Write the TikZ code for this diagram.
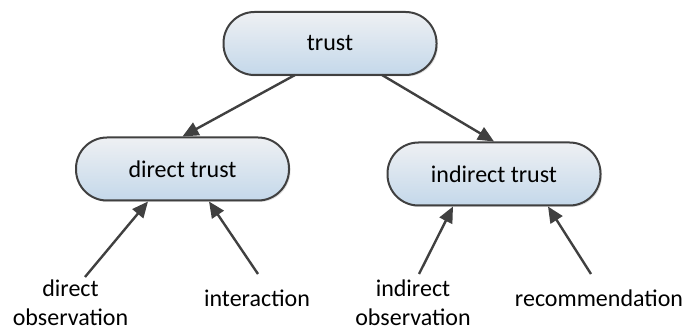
\documentclass[tikz,border=0pt]{standalone}
\usepackage{fontspec}
\setmainfont{Carlito}
\usetikzlibrary{arrows.meta,shadows}
\definecolor{edgegray}{HTML}{404040}
\definecolor{topfill}{HTML}{EEF0F3}
\definecolor{botfill}{HTML}{C4D8EA}
\tikzset{
  pill/.style={draw=edgegray, line width=2pt, rounded corners=31pt,
    top color=topfill, bottom color=botfill,
    minimum width=213pt, minimum height=63pt, inner sep=0pt,
    drop shadow={shadow xshift=1.5pt, shadow yshift=-1.5pt, opacity=0.25},
    font=\fontsize{24}{28}\selectfont, text=black},
  lbl/.style={align=center, inner sep=0pt, font=\fontsize{24}{29}\selectfont, text=black},
  conn/.style={draw=edgegray, line width=2.4pt,
    -{Triangle[length=16pt,width=14pt]}}
}
\begin{document}
\begin{tikzpicture}[x=1pt,y=-1pt]
\useasboundingbox (0,0) rectangle (699,331);
\node[pill] (trust) at (330,43.5) {trust};
\node[pill] (direct) at (182.5,169) {direct trust};
\node[pill] (indirect) at (494,174) {indirect trust};
\node[lbl, anchor=base] (dobs) at (70.5,325) {direct\\observation};
\node[lbl, anchor=base] (inter) at (257,306) {interaction};
\node[lbl, anchor=base] (iobs) at (413,325) {indirect\\observation};
\node[lbl, anchor=base] (rec) at (599,306) {recommendation};
\coordinate (dobsT) at (85,277);
\coordinate (interT) at (258,274);
\coordinate (iobsT) at (419,274);
\coordinate (recT) at (591,274);
\coordinate (trustL) at (295,75);
\coordinate (trustR) at (382,75);
\draw[conn] (trustL) -- (direct.north);
\draw[conn] (trustR) -- (indirect.north);
\draw[conn] (dobsT) -- (direct.south -| 148,0);
\draw[conn] (interT) -- (direct.south -| 209,0);
\draw[conn] (iobsT) -- (indirect.south -| 453,0);
\draw[conn] (recT) -- (indirect.south -| 548,0);
\end{tikzpicture}
\end{document}
